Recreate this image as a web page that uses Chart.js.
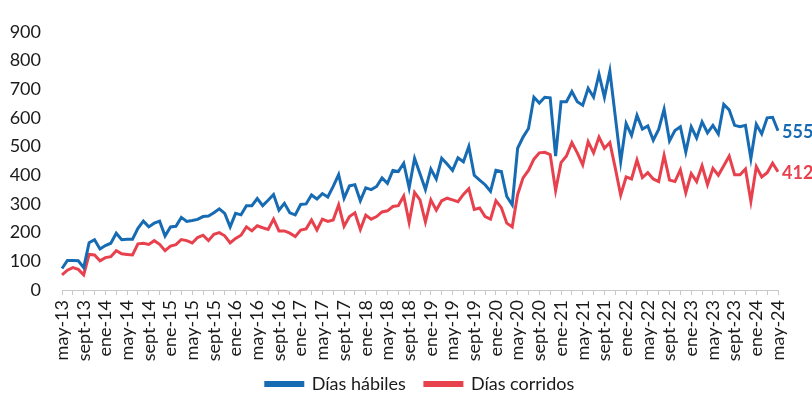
<!DOCTYPE html>
<html>
<head>
<meta charset="utf-8">
<script src="https://cdn.jsdelivr.net/npm/chart.js@4.4.1/dist/chart.umd.min.js"></script>
<style>
  html, body { margin: 0; padding: 0; background: #ffffff; }
  #wrap { width: 812px; height: 403px; position: relative; }
</style>
</head>
<body>
<div id="wrap"><canvas id="c" width="812" height="403"></canvas></div>
<script>
// ---- Data (monthly, may-13 .. may-24) ----
const monthNames = ['ene','feb','mar','abr','may','jun','jul','ago','sept','oct','nov','dic'];
const startYear = 2013, startMonth = 4, nMonths = 133;
const categories = [];
for (let k = 0; k < nMonths; k++) {
  const m = (startMonth + k) % 12;
  const y = startYear + Math.floor((startMonth + k) / 12);
  categories.push(monthNames[m] + '-' + String(y).slice(2));
}

const diasHabiles = [
  75,103,103,102,78,165,175,143,155,163,198,175,177,177,215,240,220,233,240,188,
  220,222,253,239,242,246,256,258,269,283,267,220,267,262,294,294,319,294,313,333,
  278,302,269,262,298,300,331,317,336,324,361,402,320,363,367,311,356,350,361,391,
  372,417,413,442,356,459,405,350,422,387,459,439,417,461,447,500,400,383,367,344,
  417,413,326,297,494,533,563,672,652,672,670,467,656,656,692,656,644,703,672,752,
  672,763,605,447,580,539,609,561,572,522,560,630,520,556,569,481,569,530,586,548,
  574,544,647,628,574,569,574,458,578,544,600,602,555
];

const diasCorridos = [
  53,69,78,72,53,124,122,102,113,116,137,126,124,122,161,163,159,172,159,137,
  153,158,176,172,164,183,191,172,194,200,189,164,180,191,220,206,224,217,211,247,
  206,206,198,186,209,213,244,209,247,239,244,297,222,256,269,211,261,247,256,272,
  276,291,294,328,236,340,314,237,314,278,311,320,314,308,333,353,281,286,256,247,
  311,287,233,220,333,391,417,456,478,480,472,347,444,467,514,478,436,517,478,533,
  494,514,425,331,394,387,453,392,409,387,378,469,383,378,419,339,406,378,433,367,
  424,400,433,467,402,402,422,309,430,394,409,442,412
];

const seriesNames = ['Días hábiles', 'Días corridos'];
const seriesColors = ['#176bb3', '#e8414e'];
const yTicks = [0,100,200,300,400,500,600,700,800,900];

// ---- End-of-line value labels ----
const endLabels = {
  id: 'endLabels',
  afterLayout(chart) {
    // let the rotated x labels run into the legend band without being clipped
    chart.scales.x.bottom = chart.height;
  },
  afterDatasetsDraw(chart) {
    const ctx = chart.ctx;
    chart.data.datasets.forEach((ds, i) => {
      const meta = chart.getDatasetMeta(i);
      const pt = meta.data[meta.data.length - 1];
      const v = ds.data[ds.data.length - 1];
      ctx.save();
      ctx.font = 'bold 18px Lato';
      ctx.fillStyle = ds.borderColor;
      ctx.textAlign = 'left';
      ctx.textBaseline = 'middle';
      ctx.fillText(String(v), pt.x + 4, pt.y + 1);
      ctx.restore();
    });
  }
};

Chart.defaults.font.family = 'Lato';
Chart.defaults.color = '#1a1a1a';

new Chart(document.getElementById('c'), {
  type: 'line',
  data: {
    labels: categories,
    datasets: [
      { label: seriesNames[0], data: diasHabiles, borderColor: seriesColors[0], backgroundColor: seriesColors[0],
        borderWidth: 3, pointRadius: 0, tension: 0, fill: false },
      { label: seriesNames[1], data: diasCorridos, borderColor: seriesColors[1], backgroundColor: seriesColors[1],
        borderWidth: 3, pointRadius: 0, tension: 0, fill: false }
    ]
  },
  options: {
    responsive: false,
    animation: false,
    layout: { padding: { top: 20, right: 34, bottom: 0, left: 0 } },
    plugins: {
      legend: {
        position: 'bottom',
        fullSize: false,
        labels: { boxWidth: 37, boxHeight: 3, padding: 19, font: { size: 18 }, color: '#1a1a1a' }
      },
      tooltip: { enabled: false }
    },
    scales: {
      x: {
        offset: false,
        grid: {
          display: true, drawOnChartArea: false, drawTicks: true, tickLength: 5,
          tickColor: (c) => (c.index % 2 === 0 ? '#c8c8c8' : 'rgba(0,0,0,0)'),
          color: 'rgba(0,0,0,0)'
        },
        border: { display: true, color: '#c8c8c8', width: 1 },
        ticks: {
          autoSkip: false, minRotation: 90, maxRotation: 90, padding: 5,
          font: { size: 18 },
          callback: function (val, idx) { return idx % 4 === 0 ? categories[idx] : ''; }
        },
        afterFit: (s) => { s.height = 66; }
      },
      y: {
        min: 0, max: 900,
        grid: { display: false, drawTicks: false },
        border: { display: false },
        afterBuildTicks: (s) => { s.ticks = yTicks.map(v => ({ value: v })); },
        ticks: { padding: 21, font: { size: 18 } },
        afterFit: (s) => { s.width = 62; }
      }
    }
  },
  plugins: [endLabels]
});
</script>
</body>
</html>
